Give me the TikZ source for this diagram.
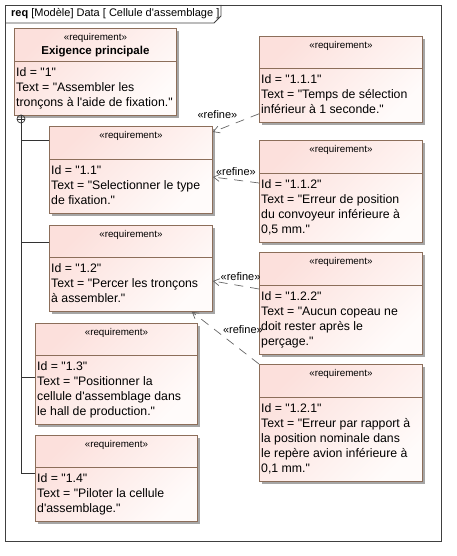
\documentclass[tikz,border=0pt]{standalone}
\usepackage{fontspec}
\setmainfont{Liberation Sans}[Ligatures=TeXOff]
\usepackage{xcolor}
\usetikzlibrary{arrows.meta,calc,shadows}

\definecolor{reqborder}{RGB}{140,110,90}
\definecolor{reqpink}{RGB}{252,224,220}
\definecolor{reqwhite}{RGB}{255,251,250}

\tikzset{
  reqbox/.style={draw=reqborder, line width=0.8pt, top color=reqpink, bottom color=reqwhite, shading angle=45,
    drop shadow={shadow xshift=3pt, shadow yshift=-3pt, fill=black!35, opacity=1}, inner sep=0pt, anchor=north west},
  reqline/.style={draw=reqborder, line width=0.8pt},
  stereo/.style={inner sep=0pt, font={\fontsize{9.8}{11}\selectfont}},
  reqname/.style={inner sep=0pt, font={\bfseries\fontsize{11.5}{14}\selectfont}},
  reqtext/.style={inner sep=0pt, anchor=north west, align=left, font={\fontsize{12.3}{15}\selectfont}},
  refine/.style={draw=black!60, line width=0.7pt, dash pattern=on 9pt off 7pt, -{Straight Barb[angle=60:7pt]}},
  refinelbl/.style={inner sep=0pt, font={\fontsize{11}{13}\selectfont}},
  tree/.style={draw=black!80, line width=0.8pt},
  framebox/.style={draw=black!75, line width=0.9pt}
}

\begin{document}
\begin{tikzpicture}[x=1pt, y=-1pt]
\useasboundingbox (0,0) rectangle (456,556);

%frame and title tab
\draw[framebox] (5,5) rectangle (441,541);
\draw[framebox] (5,23) -- (214,23) -- (221,16) -- (221,5);
\node[anchor=west, inner sep=0pt, font={\fontsize{11}{13}\selectfont}] (title) at (11,14) {\textbf{req} [Modèle] Data [ Cellule d'assemblage ]};

%main requirement
\node[reqbox, minimum width=162pt, minimum height=87pt] (r1) at (14,28) {};
\draw[reqline] ([yshift=-33pt]r1.north west) -- ([yshift=-33pt]r1.north east);
\node[stereo] (s1) at ([yshift=-10pt]r1.north) {«requirement»};
\node[reqname] (n1) at ([yshift=-24pt]r1.north) {Exigence principale};
\node[reqtext] (t1) at ([xshift=2pt,yshift=-39pt]r1.north west) {Id = "1"\\Text = "Assembler les\\tronçons à l'aide de fixation."};

%sub requirements, left column
\node[reqbox, minimum width=163pt, minimum height=87pt] (r11) at (49,126) {};
\draw[reqline] ([yshift=-33pt]r11.north west) -- ([yshift=-33pt]r11.north east);
\node[stereo] (s11) at ([yshift=-10pt]r11.north) {«requirement»};
\node[reqtext] (t11) at ([xshift=2pt,yshift=-39pt]r11.north west) {Id = "1.1"\\Text = "Selectionner le type\\de fixation."};

\node[reqbox, minimum width=163pt, minimum height=86pt] (r12) at (49,225) {};
\draw[reqline] ([yshift=-32pt]r12.north west) -- ([yshift=-32pt]r12.north east);
\node[stereo] (s12) at ([yshift=-10pt]r12.north) {«requirement»};
\node[reqtext] (t12) at ([xshift=2pt,yshift=-38pt]r12.north west) {Id = "1.2"\\Text = "Percer les tronçons\\à assembler."};

\node[reqbox, minimum width=162pt, minimum height=101pt] (r13) at (35,323) {};
\draw[reqline] ([yshift=-32pt]r13.north west) -- ([yshift=-32pt]r13.north east);
\node[stereo] (s13) at ([yshift=-10pt]r13.north) {«requirement»};
\node[reqtext] (t13) at ([xshift=2pt,yshift=-38pt]r13.north west) {Id = "1.3"\\Text = "Positionner la\\cellule d'assemblage dans\\le hall de production."};

\node[reqbox, minimum width=162pt, minimum height=86pt] (r14) at (35,435) {};
\draw[reqline] ([yshift=-32pt]r14.north west) -- ([yshift=-32pt]r14.north east);
\node[stereo] (s14) at ([yshift=-10pt]r14.north) {«requirement»};
\node[reqtext] (t14) at ([xshift=2pt,yshift=-38pt]r14.north west) {Id = "1.4"\\Text = "Piloter la cellule\\d'assemblage."};

%refined requirements, right column
\node[reqbox, minimum width=163pt, minimum height=86pt] (r111) at (259,36) {};
\draw[reqline] ([yshift=-32pt]r111.north west) -- ([yshift=-32pt]r111.north east);
\node[stereo] (s111) at ([yshift=-10pt]r111.north) {«requirement»};
\node[reqtext] (t111) at ([xshift=2pt,yshift=-38pt]r111.north west) {Id = "1.1.1"\\Text = "Temps de sélection\\inférieur à 1 seconde."};

\node[reqbox, minimum width=163pt, minimum height=102pt] (r112) at (259,140) {};
\draw[reqline] ([yshift=-33pt]r112.north west) -- ([yshift=-33pt]r112.north east);
\node[stereo] (s112) at ([yshift=-10pt]r112.north) {«requirement»};
\node[reqtext] (t112) at ([xshift=2pt,yshift=-39pt]r112.north west) {Id = "1.1.2"\\Text = "Erreur de position\\du convoyeur inférieure à\\0,5 mm."};

\node[reqbox, minimum width=163pt, minimum height=102pt] (r122) at (259,252) {};
\draw[reqline] ([yshift=-33pt]r122.north west) -- ([yshift=-33pt]r122.north east);
\node[stereo] (s122) at ([yshift=-10pt]r122.north) {«requirement»};
\node[reqtext] (t122) at ([xshift=2pt,yshift=-39pt]r122.north west) {Id = "1.2.2"\\Text = "Aucun copeau ne\\doit rester après le\\perçage."};

\node[reqbox, minimum width=163pt, minimum height=117pt] (r121) at (259,364) {};
\draw[reqline] ([yshift=-33pt]r121.north west) -- ([yshift=-33pt]r121.north east);
\node[stereo] (s121) at ([yshift=-10pt]r121.north) {«requirement»};
\node[reqtext] (t121) at ([xshift=2pt,yshift=-39pt]r121.north west) {Id = "1.2.1"\\Text = "Erreur par rapport à\\la position nominale dans\\le repère avion inférieure à\\0,1 mm."};

%containment tree
\node[circle, draw=black!80, line width=0.7pt, minimum size=8pt, inner sep=0pt] (plus) at (21,119) {};
\draw[tree, line width=0.7pt] (plus.north) -- (plus.south) (plus.west) -- (plus.east);
\draw[tree] (plus.south) |- ([yshift=-38pt]r14.north west);
\draw[tree] (plus.south) |- ([yshift=-14pt]r11.north west);
\draw[tree] (plus.south) |- ([yshift=-17pt]r12.north west);
\draw[tree] (plus.south) |- ([yshift=-54pt]r13.north west);

%refine links
\draw[refine] ([yshift=9pt]r111.south west) -- node[refinelbl, pos=0.9, above=11pt] (f1) {«refine»} ([yshift=-6pt]r11.north east);
\draw[refine] ([yshift=-43pt]r112.north west) -- node[refinelbl, pos=0.5, above=4pt] (f2) {«refine»} ([yshift=-51pt]r11.north east);
\draw[refine] ([yshift=-37pt]r122.north west) -- node[refinelbl, pos=0.4, above=5pt] (f3) {«refine»} ([yshift=-56pt]r12.north east);
\draw[refine] (r121.north west) -- node[refinelbl, pos=0.24, above=18pt] (f4) {«refine»} ([xshift=-21pt]r12.south east);
\end{tikzpicture}
\end{document}
